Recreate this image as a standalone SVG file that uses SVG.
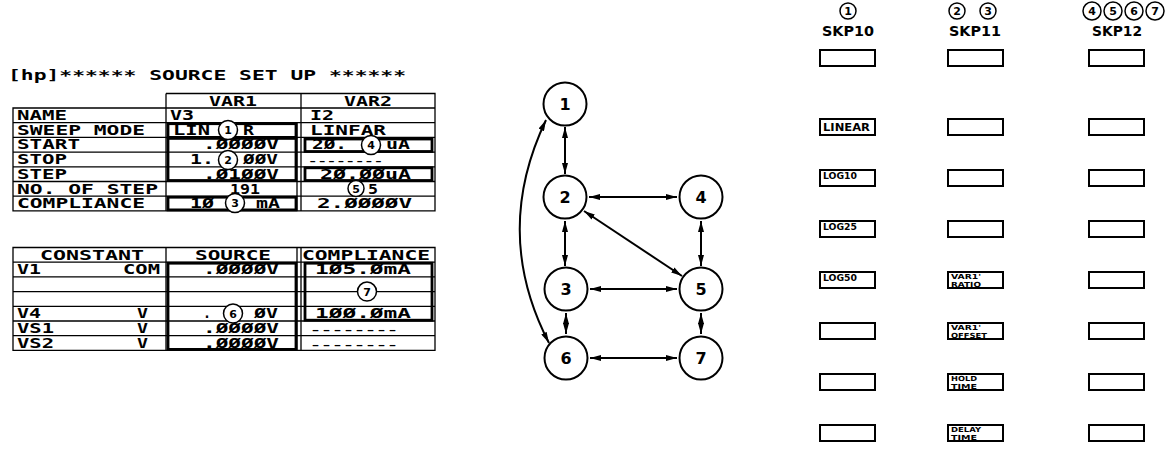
<svg xmlns="http://www.w3.org/2000/svg" width="1176" height="455" viewBox="0 0 1176 455">
<style>
.t{font-family:"DejaVu Sans Mono","Liberation Mono",monospace;font-weight:bold;font-size:13.5px;fill:#000}
.m{text-anchor:middle}
.ds{font-family:"DejaVu Sans Mono","Liberation Mono",monospace;font-weight:bold;font-size:8px;fill:#000}
.ln{stroke:#000;stroke-width:1.3;fill:none}
.tk{stroke:#000;stroke-width:2.8;fill:none}
.cc{fill:#fff;stroke:#000;stroke-width:1.5}
.cd{font-family:"DejaVu Sans","Liberation Sans",sans-serif;font-weight:bold;font-size:11px;text-anchor:middle;fill:#000}
.node circle{fill:#fff;stroke:#000;stroke-width:2}
.node text{font-family:"DejaVu Sans","Liberation Sans",sans-serif;font-weight:bold;font-size:16px;text-anchor:middle;fill:#000}
.edge{stroke:#000;stroke-width:2;fill:none;marker-start:url(#ah);marker-end:url(#ah)}
.key{fill:#fff;stroke:#000;stroke-width:2}
.kl{font-family:"DejaVu Sans","Liberation Sans",sans-serif;font-weight:bold;fill:#000}
.skp{font-family:"DejaVu Sans","Liberation Sans",sans-serif;font-weight:bold;font-size:14px;text-anchor:middle;fill:#000}
</style>
<defs>
<marker id="ah" viewBox="0 0 11 6" refX="11" refY="3" markerWidth="11" markerHeight="6" markerUnits="userSpaceOnUse" orient="auto-start-reverse"><path d="M0,0 L11,3 L0,6 z" fill="#000"/></marker>
</defs>

<g id="source-setup-table">
<text class="t" x="8" y="80" textLength="398" lengthAdjust="spacingAndGlyphs">[hp]****** SOURCE SET UP ******</text>
<path class="ln" d="M166,93.5 H435 V210.9 H13 V108 H435 M166,93.5 V210.9 M301,93.5 V210.9 M297,122.7 V210.9 M13,122.7 H435 M13,137.4 H435 M13,152.1 H435 M13,166.8 H435 M13,181.5 H435 M13,196.2 H435"/>
<rect class="tk" x="168" y="123.7" width="128" height="13.7"/>
<rect class="tk" x="168" y="138.4" width="128" height="42.1"/>
<rect class="tk" x="168" y="197.2" width="128" height="12.7"/>
<rect class="tk" x="305" y="139" width="127" height="12.5"/>
<rect class="tk" x="305" y="167.8" width="127" height="12.7"/>
<text class="t m" x="233" y="105.5" textLength="48" lengthAdjust="spacingAndGlyphs">VAR1</text>
<text class="t m" x="368" y="105.5" textLength="48" lengthAdjust="spacingAndGlyphs">VAR2</text>
<text class="t" x="17" y="120" textLength="50" lengthAdjust="spacingAndGlyphs">NAME</text>
<text class="t" x="17" y="134.7" textLength="128" lengthAdjust="spacingAndGlyphs">SWEEP MODE</text>
<text class="t" x="17" y="149.4" textLength="63" lengthAdjust="spacingAndGlyphs">START</text>
<text class="t" x="17" y="164.1" textLength="50" lengthAdjust="spacingAndGlyphs">STOP</text>
<text class="t" x="17" y="178.8" textLength="50" lengthAdjust="spacingAndGlyphs">STEP</text>
<text class="t" x="17" y="193.5" textLength="141" lengthAdjust="spacingAndGlyphs">NO. OF STEP</text>
<text class="t" x="17" y="208.2" textLength="128" lengthAdjust="spacingAndGlyphs">COMPLIANCE</text>
<text class="t" x="170" y="120" textLength="24" lengthAdjust="spacingAndGlyphs">V3</text>
<text class="t" x="310" y="120" textLength="24" lengthAdjust="spacingAndGlyphs">I2</text>
<text class="t" x="173" y="134.7" textLength="37" lengthAdjust="spacingAndGlyphs">LIN</text>
<text class="t" x="243" y="134.7" textLength="11" lengthAdjust="spacingAndGlyphs">R</text>
<text class="t" x="310" y="134.7" textLength="76" lengthAdjust="spacingAndGlyphs">LINFAR</text>
<text class="t" x="203" y="149.4" textLength="76" lengthAdjust="spacingAndGlyphs">.ØØØØV</text>
<text class="t" x="312" y="149.4" textLength="35" lengthAdjust="spacingAndGlyphs">2Ø.</text>
<text class="t" x="386" y="149.4" textLength="24" lengthAdjust="spacingAndGlyphs">uA</text>
<text class="t" x="190" y="164.1" textLength="24" lengthAdjust="spacingAndGlyphs">1.</text>
<text class="t" x="243" y="164.1" textLength="35" lengthAdjust="spacingAndGlyphs">ØØV</text>
<text class="ds" x="308" y="164" textLength="75" lengthAdjust="spacingAndGlyphs">--------</text>
<text class="t" x="203" y="178.8" textLength="76" lengthAdjust="spacingAndGlyphs">.Ø1ØØV</text>
<text class="t" x="320" y="178.8" textLength="91" lengthAdjust="spacingAndGlyphs">2Ø.ØØuA</text>
<text class="t" x="230" y="193.5" textLength="30" lengthAdjust="spacingAndGlyphs">191</text>
<text class="t" x="368" y="193.5" textLength="10" lengthAdjust="spacingAndGlyphs">5</text>
<text class="t" x="190" y="208.2" textLength="24" lengthAdjust="spacingAndGlyphs">1Ø</text>
<text class="t" x="256" y="208.2" textLength="24" lengthAdjust="spacingAndGlyphs">mA</text>
<text class="t" x="317" y="208.2" textLength="95" lengthAdjust="spacingAndGlyphs">2.ØØØØV</text>
<circle class="cc" cx="228" cy="130" r="9.5"/><text class="cd" x="228" y="134">1</text>
<circle class="cc" cx="228" cy="160" r="9.5"/><text class="cd" x="228" y="164">2</text>
<circle class="cc" cx="235" cy="203" r="9.5"/><text class="cd" x="235" y="207">3</text>
<circle class="cc" cx="371" cy="145" r="9.5"/><text class="cd" x="371" y="149">4</text>
<circle class="cc" cx="356" cy="188.5" r="8"/><text class="cd" x="356" y="192.5">5</text>

<path class="ln" d="M13,247.5 H435 V350.4 H13 Z M13,262.2 H435 M13,276.9 H435 M13,291.6 H435 M13,306.3 H435 M13,321 H435 M13,335.7 H435 M166,247.5 V350.4 M297,247.5 V350.4 M301,247.5 V350.4"/>
<rect class="tk" x="168" y="263.2" width="128" height="86.2"/>
<rect class="tk" x="305" y="263.2" width="127" height="57" stroke-width="2.4"/>
<text class="t m" x="92" y="259.5" textLength="104" lengthAdjust="spacingAndGlyphs">CONSTANT</text>
<text class="t m" x="233" y="259.5" textLength="76" lengthAdjust="spacingAndGlyphs">SOURCE</text>
<text class="t m" x="366" y="259.5" textLength="128" lengthAdjust="spacingAndGlyphs">COMPLIANCE</text>
<text class="t" x="17" y="274.2" textLength="24" lengthAdjust="spacingAndGlyphs">V1</text>
<text class="t" x="123" y="274.2" textLength="37" lengthAdjust="spacingAndGlyphs">COM</text>
<text class="t" x="203" y="274.2" textLength="76" lengthAdjust="spacingAndGlyphs">.ØØØØV</text>
<text class="t" x="315" y="274.2" textLength="96" lengthAdjust="spacingAndGlyphs">1Ø5.ØmA</text>
<text class="t" x="17" y="318.3" textLength="24" lengthAdjust="spacingAndGlyphs">V4</text>
<text class="t" x="137" y="318.3" textLength="11" lengthAdjust="spacingAndGlyphs">V</text>
<text class="t" x="203" y="318.3" textLength="8" lengthAdjust="spacingAndGlyphs">.</text>
<text class="t" x="254" y="318.3" textLength="24" lengthAdjust="spacingAndGlyphs">ØV</text>
<text class="t" x="315" y="318.3" textLength="96" lengthAdjust="spacingAndGlyphs">1ØØ.ØmA</text>
<text class="t" x="17" y="333" textLength="37" lengthAdjust="spacingAndGlyphs">VS1</text>
<text class="t" x="137" y="333" textLength="11" lengthAdjust="spacingAndGlyphs">V</text>
<text class="t" x="203" y="333" textLength="76" lengthAdjust="spacingAndGlyphs">.ØØØØV</text>
<text class="ds" x="310" y="333" textLength="88" lengthAdjust="spacingAndGlyphs">--------</text>
<text class="t" x="17" y="347.7" textLength="37" lengthAdjust="spacingAndGlyphs">VS2</text>
<text class="t" x="137" y="347.7" textLength="11" lengthAdjust="spacingAndGlyphs">V</text>
<text class="t" x="203" y="347.7" textLength="76" lengthAdjust="spacingAndGlyphs">.ØØØØV</text>
<text class="ds" x="310" y="347.5" textLength="88" lengthAdjust="spacingAndGlyphs">--------</text>
<circle class="cc" cx="367" cy="291.6" r="9.5"/><text class="cd" x="367" y="295.6">7</text>
<circle class="cc" cx="233" cy="313.5" r="9.5"/><text class="cd" x="233" y="317.5">6</text>
</g>

<g id="connectors">
<path class="edge" d="M565,127 V174"/>
<path class="edge" d="M589,197 H677"/>
<path class="edge" d="M584,211 L682,276"/>
<path class="edge" d="M565,221 V266"/>
<path class="edge" d="M701,221 V266"/>
<path class="edge" d="M590,289 H677"/>
<path class="edge" d="M566,313 V334"/>
<path class="edge" d="M701,313 V334"/>
<path class="edge" d="M590,358 H677"/>
<path class="edge" d="M546,120 Q492,233 549,343"/>
</g>
<g id="n1" class="node"><circle cx="565" cy="104" r="21.5"/><text x="565" y="110">1</text></g>
<g id="n2" class="node"><circle cx="565" cy="197" r="21.5"/><text x="565" y="203">2</text></g>
<g id="n4" class="node"><circle cx="701" cy="197" r="21.5"/><text x="701" y="203">4</text></g>
<g id="n3" class="node"><circle cx="566" cy="289" r="21.5"/><text x="566" y="295">3</text></g>
<g id="n5" class="node"><circle cx="701" cy="289" r="21.5"/><text x="701" y="295">5</text></g>
<g id="n6" class="node"><circle cx="566" cy="358" r="21.5"/><text x="566" y="364">6</text></g>
<g id="n7" class="node"><circle cx="701" cy="358" r="21.5"/><text x="701" y="364">7</text></g>

<g id="skp10">
<circle class="cc" cx="848" cy="11" r="8"/><text class="cd" x="848" y="15">1</text>
<text class="skp" x="848" y="36" textLength="52" lengthAdjust="spacingAndGlyphs">SKP10</text>
<rect class="key" x="820" y="50" width="55" height="16"/>
<rect class="key" x="820" y="119" width="55" height="16"/>
<rect class="key" x="820" y="170" width="55" height="16"/>
<rect class="key" x="820" y="221" width="55" height="16"/>
<rect class="key" x="820" y="272" width="55" height="16"/>
<rect class="key" x="820" y="323" width="55" height="16"/>
<rect class="key" x="820" y="374" width="55" height="16"/>
<rect class="key" x="820" y="425" width="55" height="16"/>
<text class="kl" x="823" y="131" font-size="10" textLength="47" lengthAdjust="spacingAndGlyphs">LINEAR</text>
<text class="kl" x="823" y="179" font-size="8" textLength="34" lengthAdjust="spacingAndGlyphs">LOG10</text>
<text class="kl" x="823" y="230" font-size="8" textLength="34" lengthAdjust="spacingAndGlyphs">LOG25</text>
<text class="kl" x="823" y="281" font-size="8" textLength="34" lengthAdjust="spacingAndGlyphs">LOG50</text>
</g>
<g id="skp11">
<circle class="cc" cx="957" cy="11" r="8"/><text class="cd" x="957" y="15">2</text>
<circle class="cc" cx="988" cy="11" r="8"/><text class="cd" x="988" y="15">3</text>
<text class="skp" x="975" y="36" textLength="52" lengthAdjust="spacingAndGlyphs">SKP11</text>
<rect class="key" x="948" y="50" width="55" height="16"/>
<rect class="key" x="948" y="119" width="55" height="16"/>
<rect class="key" x="948" y="170" width="55" height="16"/>
<rect class="key" x="948" y="221" width="55" height="16"/>
<rect class="key" x="948" y="272" width="55" height="16"/>
<rect class="key" x="948" y="323" width="55" height="16"/>
<rect class="key" x="948" y="374" width="55" height="16"/>
<rect class="key" x="948" y="425" width="55" height="16"/>
<text class="kl" x="951" y="279" font-size="7" textLength="30" lengthAdjust="spacingAndGlyphs">VAR1'</text>
<text class="kl" x="951" y="286.5" font-size="7" textLength="30" lengthAdjust="spacingAndGlyphs">RATIO</text>
<text class="kl" x="951" y="330" font-size="7" textLength="30" lengthAdjust="spacingAndGlyphs">VAR1'</text>
<text class="kl" x="951" y="337.5" font-size="7" textLength="36" lengthAdjust="spacingAndGlyphs">OFFSET</text>
<text class="kl" x="951" y="381" font-size="7" textLength="26" lengthAdjust="spacingAndGlyphs">HOLD</text>
<text class="kl" x="951" y="388.5" font-size="7" textLength="26" lengthAdjust="spacingAndGlyphs">TIME</text>
<text class="kl" x="951" y="432" font-size="7" textLength="30" lengthAdjust="spacingAndGlyphs">DELAY</text>
<text class="kl" x="951" y="439.5" font-size="7" textLength="26" lengthAdjust="spacingAndGlyphs">TIME</text>
</g>
<g id="skp12">
<circle class="cc" cx="1092" cy="11" r="9"/><text class="cd" x="1092" y="15">4</text>
<circle class="cc" cx="1113" cy="11" r="9"/><text class="cd" x="1113" y="15">5</text>
<circle class="cc" cx="1134" cy="11" r="9"/><text class="cd" x="1134" y="15">6</text>
<circle class="cc" cx="1155" cy="11" r="9"/><text class="cd" x="1155" y="15">7</text>
<text class="skp" x="1117" y="36" textLength="50" lengthAdjust="spacingAndGlyphs">SKP12</text>
<rect class="key" x="1089" y="50" width="55" height="16"/>
<rect class="key" x="1089" y="119" width="55" height="16"/>
<rect class="key" x="1089" y="170" width="55" height="16"/>
<rect class="key" x="1089" y="221" width="55" height="16"/>
<rect class="key" x="1089" y="272" width="55" height="16"/>
<rect class="key" x="1089" y="323" width="55" height="16"/>
<rect class="key" x="1089" y="374" width="55" height="16"/>
<rect class="key" x="1089" y="425" width="55" height="16"/>
</g>
</svg>
